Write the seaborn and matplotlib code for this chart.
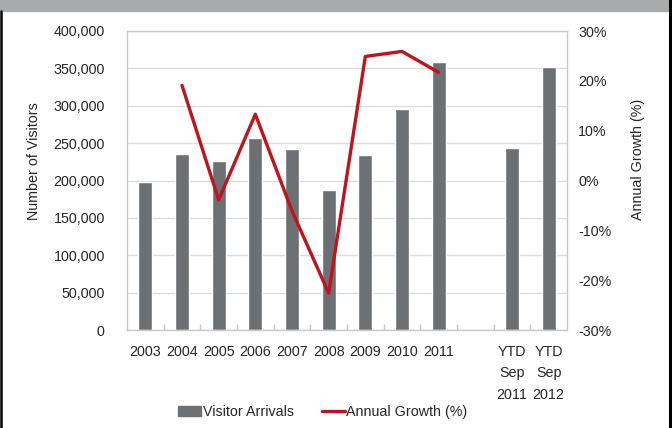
import matplotlib
matplotlib.use("Agg")
import matplotlib.pyplot as plt
from matplotlib.patches import Rectangle
from matplotlib.lines import Line2D
from matplotlib.ticker import FuncFormatter, FixedLocator
import seaborn as sns
import pandas as pd
import numpy as np

# Data
categories = ["2003", "2004", "2005", "2006", "2007", "2008", "2009", "2010", "2011",
              "", "YTD\nSep\n2011", "YTD\nSep\n2012"]
arrivals = [198000, 236000, 226500, 257500, 242000, 187000, 234000, 295000, 359000,
            None, 243000, 352500]
growth_years = ["2004", "2005", "2006", "2007", "2008", "2009", "2010", "2011"]
growth = [19.1, -3.9, 13.3, -6.1, -22.6, 24.9, 25.9, 21.7]

sns.set_theme(style="white")
plt.rcParams["font.family"] = ["Liberation Sans", "DejaVu Sans"]

BAR = "#6d7073"
RED = "#c0141c"
GRID = "#d9dcdc"
SPINE = "#c8c9ca"
FS = 10.3

pos = np.arange(len(categories))
df = pd.DataFrame({"pos": pos, "arrivals": arrivals}).dropna()
gdf = pd.DataFrame({"pos": [categories.index(y) for y in growth_years], "growth": growth})

fig = plt.figure(figsize=(6.72, 4.28), dpi=100)
ax = fig.add_axes([127 / 672, 98 / 428, 440 / 672, 299 / 428])

sns.barplot(data=df, x="pos", y="arrivals", native_scale=True, width=0.39,
            color=BAR, saturation=1, ax=ax, zorder=2)
ax.set_xlim(-0.5, len(categories) - 0.5)
ax.set_ylim(0, 400000)
ax.set_yticks(np.arange(0, 400001, 50000))
ax.yaxis.set_major_formatter(FuncFormatter(lambda v, p: f"{int(v):,}"))
ax.grid(axis="y", color=GRID, linewidth=1, zorder=0)
ax.set_axisbelow(True)
ax.set_xticks(pos)
ax.set_xticklabels(categories, fontsize=FS, linespacing=1.65)
ax.xaxis.set_minor_locator(FixedLocator(np.arange(0.5, len(categories) - 1, 1.0)))
ax.tick_params(axis="x", which="major", length=0, pad=11)
ax.tick_params(axis="x", which="minor", direction="in", length=4, width=1, color=SPINE, bottom=True)
ax.tick_params(axis="y", length=0, pad=16, labelsize=FS)
ax.set_xlabel("")
ax.set_ylabel("Number of Visitors", fontsize=FS, labelpad=9)
ax.yaxis.label.set_y(0.565)
for s in ax.spines.values():
    s.set_color(SPINE)
    s.set_linewidth(1)

ax2 = ax.twinx()
sns.lineplot(data=gdf, x="pos", y="growth", color=RED, linewidth=2.4, ax=ax2, zorder=3)
ax2.set_ylim(-30, 30)
ax2.set_yticks(np.arange(-30, 31, 10))
ax2.yaxis.set_major_formatter(FuncFormatter(lambda v, p: f"{int(v)}%"))
ax2.tick_params(axis="y", length=0, pad=8, labelsize=FS)
ax2.set_ylabel("Annual Growth (%)", fontsize=FS, labelpad=14)
ax2.yaxis.label.set_y(0.57)
ax2.set_xlabel("")
for s in ax2.spines.values():
    s.set_visible(False)

handles = [Rectangle((0, 0), 1, 1, color=BAR),
           Line2D([0], [0], color=RED, linewidth=2.4)]
fig.legend(handles, ["Visitor Arrivals", "Annual Growth (%)"], loc="center",
           bbox_to_anchor=(323 / 672, 1 - 412 / 428), ncol=2, frameon=False,
           fontsize=FS, handlelength=1.6, handletextpad=0.1, columnspacing=2.0)

# Header band and frame edges
fig.patches.append(Rectangle((0, 1 - 11 / 428), 1, 11 / 428, transform=fig.transFigure,
                             color="#a9aaab", zorder=-1))
fig.add_artist(Line2D([1 / 672, 1 / 672], [0, 1 - 11 / 428], transform=fig.transFigure,
                      color="black", linewidth=1.8))
fig.add_artist(Line2D([670 / 672, 670 / 672], [0, 1], transform=fig.transFigure,
                      color="black", linewidth=2.2))

fig.savefig("out.png", dpi=100)
